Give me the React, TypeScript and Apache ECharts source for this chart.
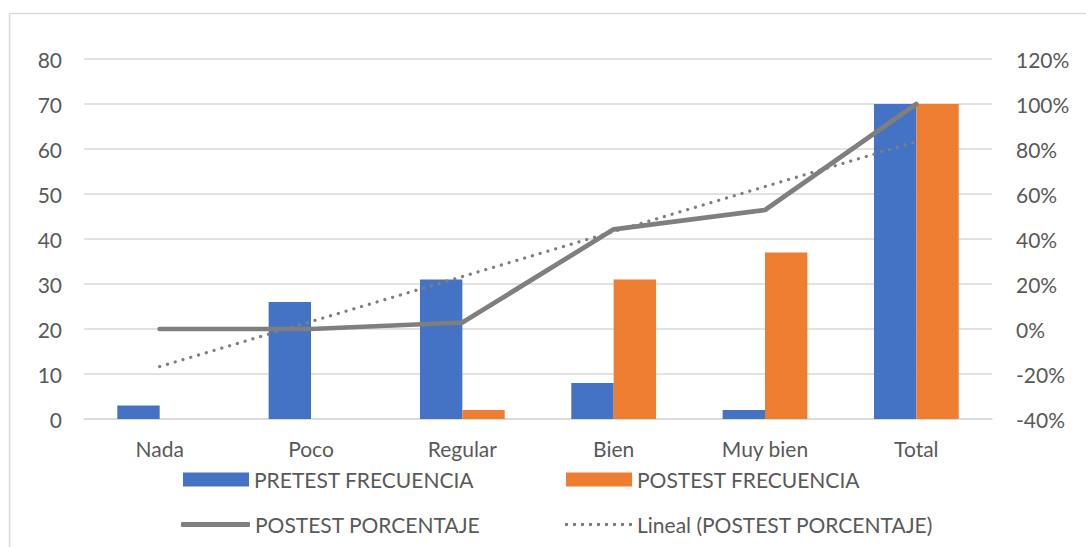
import React, { useEffect, useRef } from "react";
import * as echarts from "echarts";

const categories = ["Nada", "Poco", "Regular", "Bien", "Muy bien", "Total"];
const pretestFrecuencia = [3, 26, 31, 8, 2, 70];
const postestFrecuencia = [0, 0, 2, 31, 37, 70];
const postestPorcentaje = [0, 0, 2.9, 44.3, 52.9, 100];
const linealPostest = [-16.7, 3.3, 23.3, 43.3, 63.3, 83.3];

const FONT = "Lato, 'Noto Sans', sans-serif";
const TXT = "#595959";
const FS = 21;

const dotsIcon =
  "path://" +
  Array.from({ length: 9 }, (_, i) => `M${i * 8},0h3v3h-3z`).join(" ");

export default function App() {
  const ref = useRef<HTMLDivElement>(null);
  useEffect(() => {
    const chart = echarts.init(ref.current!, undefined, { renderer: "svg" });
    const legendText = { color: TXT, fontSize: FS, fontFamily: FONT };
    chart.setOption({
      animation: false,
      textStyle: { fontFamily: FONT },
      graphic: [
        {
          type: "rect",
          shape: { x: 9.5, y: 13.5, width: 1200, height: 600 },
          style: { fill: "none", stroke: "#d9d9d9", lineWidth: 1.5 },
          silent: true,
        },
      ],
      grid: { left: 84, right: 94, top: 59, bottom: 128, containLabel: false },
      legend: [
        {
          data: [{ name: "PRETEST FRECUENCIA", icon: "rect" }],
          left: 178, top: 464, itemWidth: 66, itemHeight: 14,
          textStyle: legendText, selectedMode: false,
        },
        {
          data: [{ name: "POSTEST FRECUENCIA", icon: "rect" }],
          left: 561, top: 464, itemWidth: 66, itemHeight: 14,
          textStyle: legendText, selectedMode: false,
        },
        {
          data: [{ name: "POSTEST PORCENTAJE", icon: "roundRect" }],
          left: 176, top: 509, itemWidth: 69, itemHeight: 5,
          textStyle: legendText, selectedMode: false,
        },
        {
          data: [{ name: "Lineal (POSTEST PORCENTAJE)", icon: dotsIcon }],
          left: 560, top: 509, itemWidth: 67, itemHeight: 3,
          symbolKeepAspect: false,
          textStyle: legendText, selectedMode: false,
        },
      ],
      xAxis: {
        type: "category",
        data: categories,
        axisLine: { lineStyle: { color: "#d9d9d9", width: 1.5 } },
        axisTick: { show: false },
        axisLabel: { color: TXT, fontSize: FS, margin: 19, fontFamily: FONT },
      },
      yAxis: [
        {
          type: "value",
          min: 0,
          max: 80,
          interval: 10,
          axisLine: { show: false },
          axisTick: { show: false },
          splitLine: { lineStyle: { color: "#d9d9d9", width: 1.5 } },
          axisLabel: { color: TXT, fontSize: FS, margin: 22, fontFamily: FONT },
        },
        {
          type: "value",
          min: -40,
          max: 120,
          interval: 20,
          axisLine: { show: false },
          axisTick: { show: false },
          splitLine: { show: false },
          axisLabel: { color: TXT, fontSize: FS, margin: 24, formatter: "{value}%", fontFamily: FONT },
        },
      ],
      series: [
        {
          name: "PRETEST FRECUENCIA",
          type: "bar",
          data: pretestFrecuencia,
          itemStyle: { color: "#4472c4" },
          barGap: "0%",
          barCategoryGap: "44%",
        },
        {
          name: "POSTEST FRECUENCIA",
          type: "bar",
          data: postestFrecuencia,
          itemStyle: { color: "#ed7d31" },
          barGap: "0%",
          barCategoryGap: "44%",
        },
        {
          name: "POSTEST PORCENTAJE",
          type: "line",
          yAxisIndex: 1,
          data: postestPorcentaje,
          symbol: "none",
          lineStyle: { color: "#7f7f7f", width: 4.7, cap: "round", join: "round" },
          itemStyle: { color: "#7f7f7f" },
          z: 5,
        },
        {
          name: "Lineal (POSTEST PORCENTAJE)",
          type: "line",
          yAxisIndex: 1,
          data: linealPostest,
          symbol: "none",
          lineStyle: { color: "#7f7f7f", width: 3.2, type: [0.1, 8], cap: "round" },
          itemStyle: { color: "#7f7f7f" },
          z: 6,
        },
      ],
    });
    return () => chart.dispose();
  }, []);
  return (
    <div
      ref={ref}
      style={{ position: "fixed", left: 0, top: 0, width: 1086, height: 547, background: "#fff" }}
    />
  );
}
